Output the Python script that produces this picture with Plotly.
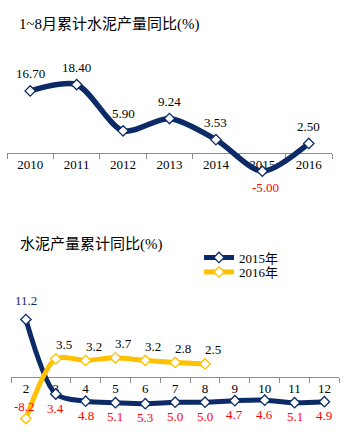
import plotly.graph_objects as go

# ---- data ----
years = ["2010", "2011", "2012", "2013", "2014", "2015", "2016"]
growth_1to8 = [16.70, 18.40, 5.90, 9.24, 3.53, -5.00, 2.50]
growth_labels = ["16.70", "18.40", "5.90", "9.24", "3.53", "-5.00", "2.50"]

months = ["2", "3", "4", "5", "6", "7", "8", "9", "10", "11", "12"]
y2015 = [11.2, -3.4, -4.8, -5.1, -5.3, -5.0, -5.0, -4.7, -4.6, -5.1, -4.9]
y2015_labels = ["11.2", "3.4", "4.8", "5.1", "5.3", "5.0", "5.0", "4.7", "4.6", "5.1", "4.9"]
months_2016 = ["2", "3", "4", "5", "6", "7", "8"]
y2016 = [-8.2, 3.5, 3.2, 3.7, 3.2, 2.8, 2.5]
y2016_labels = ["-8.2", "3.5", "3.2", "3.7", "3.2", "2.8", "2.5"]

W, H = 346, 438
NAVY = "#0b2a66"
GOLD = "#ffc000"
RED = "#ff0000"
AXIS = "#8c8c8c"
FONT = "Liberation Serif, Times New Roman, Noto Sans CJK SC, serif"

def py(pix):
    return 1 - pix / H

fig = go.Figure()

fig.add_trace(go.Scatter(
    x=years, y=growth_1to8, mode="lines+markers", xaxis="x", yaxis="y",
    line=dict(color=NAVY, width=5.5, shape="spline", smoothing=0.8),
    marker=dict(symbol="diamond", size=8, color="white", line=dict(color=NAVY, width=1.3)),
    showlegend=False, cliponaxis=False, hoverinfo="skip"))

fig.add_trace(go.Scatter(
    x=months, y=y2015, mode="lines+markers", xaxis="x2", yaxis="y2",
    name="2015年", legend="legend",
    line=dict(color=NAVY, width=5, shape="spline", smoothing=0.8),
    marker=dict(symbol="diamond", size=8, color="white", line=dict(color=NAVY, width=1.3)),
    cliponaxis=False, hoverinfo="skip"))

fig.add_trace(go.Scatter(
    x=months_2016, y=y2016, mode="lines+markers", xaxis="x2", yaxis="y2",
    name="2016年", legend="legend2",
    line=dict(color=GOLD, width=5, shape="spline", smoothing=0.8),
    marker=dict(symbol="diamond", size=8, color="white", line=dict(color=GOLD, width=1.3)),
    cliponaxis=False, hoverinfo="skip"))

annotations = []
for i, (v, t) in enumerate(zip(growth_1to8, growth_labels)):
    neg = v < 0
    annotations.append(dict(
        x=i, y=v, xref="x", yref="y", text=t, showarrow=False,
        yshift=-16 if neg else 17, xshift=3 if neg else 0,
        font=dict(family=FONT, size=13, color=RED if neg else "#000000")))

for i, (v, t) in enumerate(zip(y2015, y2015_labels)):
    neg = v < 0
    annotations.append(dict(
        x=i, y=v, xref="x2", yref="y2", text=t, showarrow=False,
        yshift=-14 if neg else 19,
        font=dict(family=FONT, size=13, color=RED if neg else NAVY)))

for i, (v, t) in enumerate(zip(y2016, y2016_labels)):
    neg = v < 0
    annotations.append(dict(
        x=i, y=v, xref="x2", yref="y2", text=t, showarrow=False,
        yshift=12 if neg else 14, xshift=-1 if neg else 8,
        font=dict(family=FONT, size=13, color=RED if neg else "#000000")))

annotations.append(dict(
    x=17 / W, y=py(25), xref="paper", yref="paper", xanchor="left", yanchor="middle",
    text="1~8月累计水泥产量同比(%)", showarrow=False,
    font=dict(family=FONT, size=15, color="#000000")))
annotations.append(dict(
    x=18 / W, y=py(244), xref="paper", yref="paper", xanchor="left", yanchor="middle",
    text="水泥产量累计同比(%)", showarrow=False,
    font=dict(family=FONT, size=15, color="#000000")))

# top chart: zero at pixel 152.7, 3.7 px per unit
top_rng = [-8, 22]
top_zero, top_ppu = 152.7, 3.7
top_dom = [py(top_zero - top_rng[0] * top_ppu), py(top_zero - top_rng[1] * top_ppu)]
# bottom chart: zero at pixel 376.7, 5.1 px per unit
bot_rng = [-10, 14]
bot_zero, bot_ppu = 376.7, 5.1
bot_dom = [py(bot_zero - bot_rng[0] * bot_ppu), py(bot_zero - bot_rng[1] * bot_ppu)]

xcommon = dict(type="category", showgrid=False, zeroline=False, showline=True,
               linecolor=AXIS, linewidth=1, ticks="outside", tickson="boundaries",
               ticklen=5, tickcolor=AXIS, tickwidth=1, layer="below traces",
               tickfont=dict(family=FONT, size=13, color="#000000"), fixedrange=True)
ycommon = dict(visible=False, showgrid=False, zeroline=False, fixedrange=True)

legcommon = dict(xanchor="left", yanchor="middle", bgcolor="rgba(0,0,0,0)", borderwidth=0,
                 font=dict(family=FONT, size=13, color="#000000"), itemwidth=30)

fig.update_layout(
    width=W, height=H, margin=dict(l=0, r=0, t=0, b=0),
    paper_bgcolor="white", plot_bgcolor="rgba(0,0,0,0)",
    font=dict(family=FONT),
    xaxis=dict(xcommon, domain=[7 / W, 332 / W], anchor="free", position=py(top_zero),
               categoryorder="array", categoryarray=years,
               range=[-0.5, len(years) - 0.5], autorange=False),
    yaxis=dict(ycommon, domain=top_dom, range=top_rng),
    xaxis2=dict(xcommon, domain=[11 / W, 339.3 / W], anchor="free", position=py(bot_zero),
                categoryorder="array", categoryarray=months,
                range=[-0.5, len(months) - 0.5], autorange=False),
    yaxis2=dict(ycommon, domain=bot_dom, range=bot_rng),
    legend=dict(legcommon, x=199 / W, y=py(257.5)),
    legend2=dict(legcommon, x=199 / W, y=py(272)),
    annotations=annotations,
)

fig.write_html("out.html")
